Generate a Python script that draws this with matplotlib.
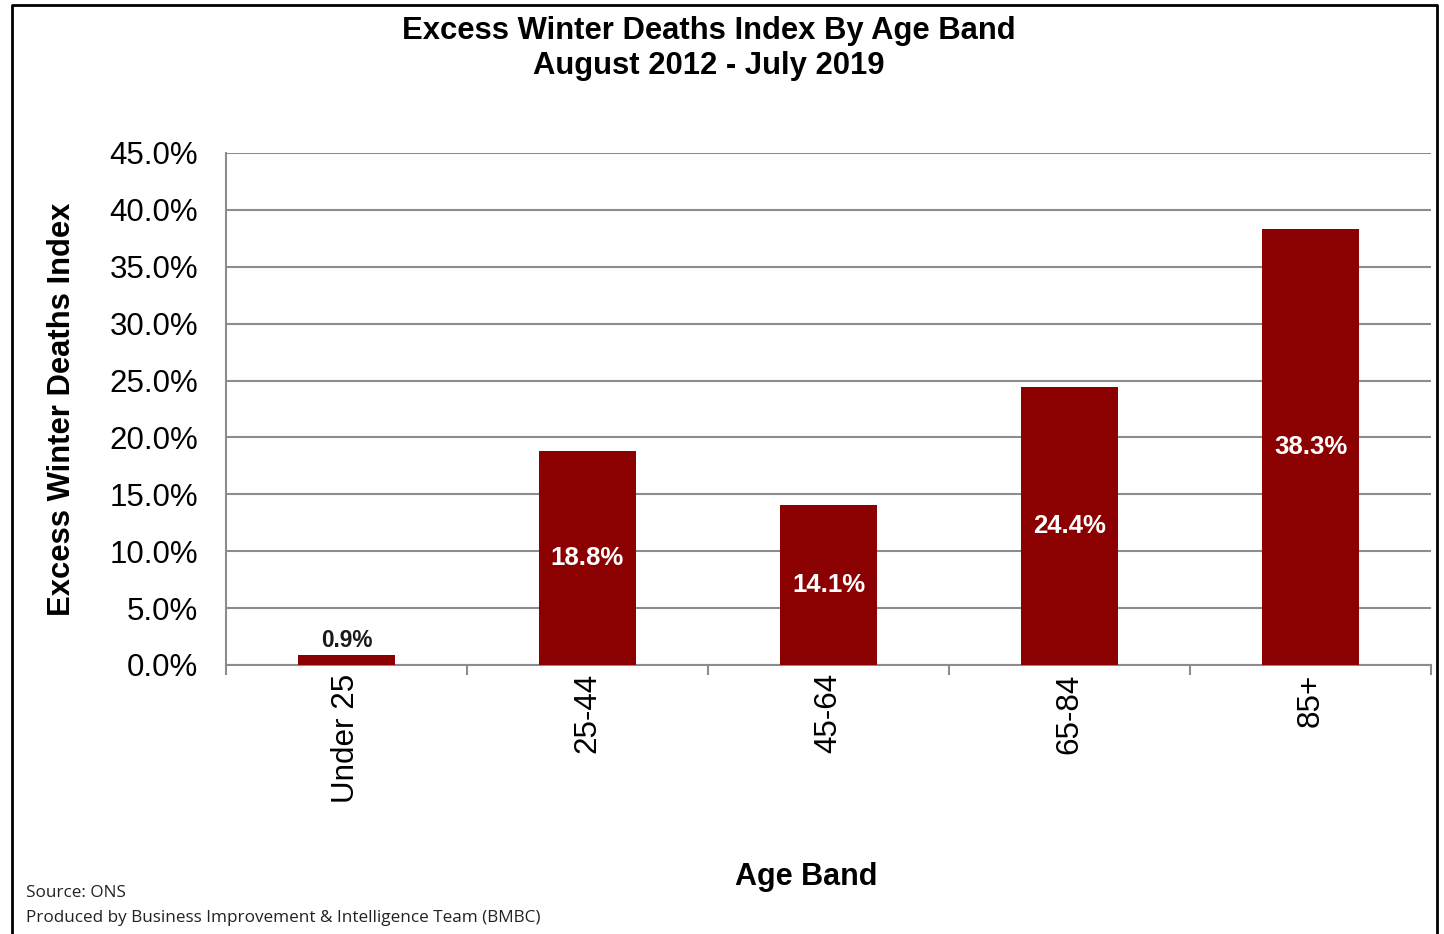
import matplotlib.pyplot as plt
from matplotlib.lines import Line2D
from matplotlib.ticker import FixedLocator, PercentFormatter

plt.rcParams['font.family'] = ['Liberation Sans', 'DejaVu Sans']

age_bands = ['Under 25', '25-44', '45-64', '65-84', '85+']
ewd_index = [0.9, 18.8, 14.1, 24.4, 38.3]

bar_color = '#8b0000'
grid_color = '#8c8c8c'

fig = plt.figure(figsize=(14.44, 9.34), dpi=100)
ax = fig.add_axes([226 / 1444, 1 - 665 / 934, 1205 / 1444, 512 / 934])

x = range(len(age_bands))
bars = ax.bar(x, ewd_index, width=0.4, color=bar_color, zorder=3)

# value labels: white in the middle of the bar, black above the small one
for rect, val in zip(bars, ewd_index):
    cx = rect.get_x() + rect.get_width() / 2
    if val < 5:
        ax.text(cx, val + 0.2, f'{val:.1f}%', ha='center', va='bottom',
                fontsize=16.3, fontweight='bold', color='#1a1a1a')
    else:
        ax.text(cx, val / 2, f'{val:.1f}%', ha='center', va='center',
                fontsize=18.5, fontweight='bold', color='white')

ax.set_xlim(-0.5, len(age_bands) - 0.5)
ax.set_ylim(0, 45)
ax.set_yticks([i * 5 for i in range(10)])
ax.yaxis.set_major_formatter(PercentFormatter(decimals=1))
ax.tick_params(axis='y', length=0, labelsize=22.5, pad=20)
ax.yaxis.grid(True, color=grid_color, linewidth=1.5, zorder=0)

ax.set_xticks(list(x))
ax.set_xticklabels(age_bands, rotation=90, fontsize=22.6)
ax.tick_params(axis='x', which='major', length=0, pad=6)
ax.xaxis.set_minor_locator(FixedLocator([i - 0.5 for i in range(len(age_bands) + 1)]))
ax.tick_params(axis='x', which='minor', length=7, width=1.5, color=grid_color)

for side in ['top', 'right']:
    ax.spines[side].set_visible(False)
for side in ['left', 'bottom']:
    ax.spines[side].set_color(grid_color)
    ax.spines[side].set_linewidth(1.5)

ax.set_ylabel('Excess Winter Deaths Index', fontsize=22.3, fontweight='bold')
ax.yaxis.set_label_coords(-0.124, 0.5)

fig.text(0.491, 1 - 16 / 934, 'Excess Winter Deaths Index By Age Band\nAugust 2012 - July 2019',
         ha='center', va='top', fontsize=22.3, fontweight='bold', linespacing=1.22)
fig.text(806 / 1444, 1 - 877 / 934, 'Age Band', ha='center', va='center',
         fontsize=22, fontweight='bold')

fig.text(26 / 1444, 1 - 893 / 934, 'Source: ONS', ha='left', va='center',
         fontsize=12.3, family=['Open Sans', 'DejaVu Sans'], color='#222222')
fig.text(26 / 1444, 1 - 918 / 934,
         'Produced by Business Improvement & Intelligence Team (BMBC)',
         ha='left', va='center', fontsize=12.3,
         family=['Open Sans', 'DejaVu Sans'], color='#222222')

# outer frame (bottom edge runs off the image)
fx0, fx1, fy1 = 12 / 1444, 1437 / 1444, 1 - 5 / 934
fig.add_artist(Line2D([fx0, fx0, fx1, fx1], [-0.01, fy1, fy1, -0.01],
                      transform=fig.transFigure, color='black', linewidth=2))

fig.savefig('out.png', dpi=100, facecolor='white')
